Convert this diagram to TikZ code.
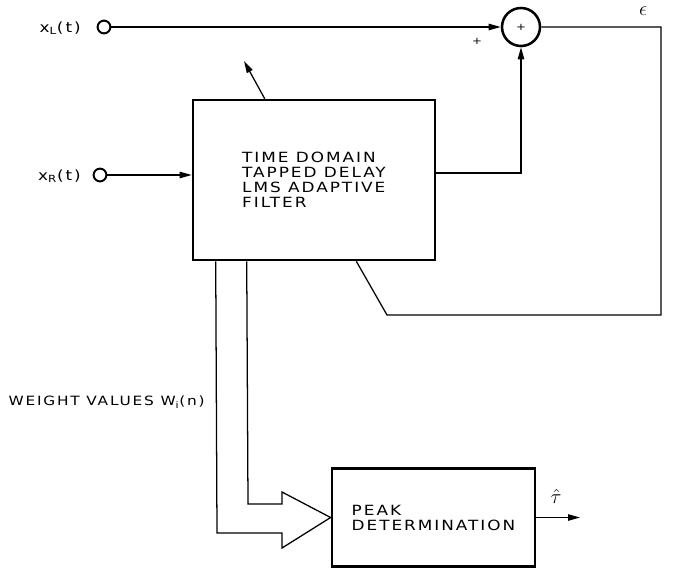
\documentclass[tikz,border=0pt]{standalone}
\usepackage{amsmath}
\usepackage{fontspec}
\newfontfamily\diagfont{DejaVu Sans}[FakeStretch=1.2,LetterSpace=14]
\usetikzlibrary{arrows.meta,positioning,calc}
\tikzset{
  filterbox/.style={draw, line width=1.8pt, minimum width=6.05cm, minimum height=4cm, align=left, font=\diagfont\fontsize{10}{10.7}\selectfont},
  peakbox/.style={draw, line width=1.8pt, minimum width=5.08cm, minimum height=2.46cm, align=left, font=\diagfont\fontsize{10}{10.7}\selectfont},
  portnode/.style={draw, circle, line width=1.4pt, minimum size=0.32cm, inner sep=0pt},
  sumnode/.style={draw, circle, line width=1.8pt, minimum size=0.95cm, inner sep=0pt, font=\diagfont\scriptsize},
  sline/.style={-{Triangle[length=3mm,width=1.6mm]}, line width=0.9pt},
  pline/.style={line width=0.9pt},
  lbl/.style={font=\diagfont\fontsize{10}{10.7}\selectfont, inner sep=0pt},
  mathlbl/.style={font=\Large, inner sep=0pt},
}

\begin{document}
\begin{tikzpicture}[x=0.025cm, y=-0.025cm]
  \useasboundingbox (0,0) rectangle (675,586);

  \node[portnode] (inL) at (104,27) {};
  \node[portnode] (inR) at (100,175) {};
  \node[lbl, anchor=east] (labL) at (81,28) {x$_{\text{L}}$(t)};
  \node[lbl, anchor=east] (labR) at (81,176) {x$_{\text{R}}$(t)};

  \node[sumnode] (sum) at (521,27) {+};
  \node[filterbox] (filter) at (314,180) {TIME DOMAIN\\TAPPED DELAY\\LMS ADAPTIVE\\FILTER};
  \node[peakbox] (peak) at (433.5,517.5) {PEAK\\DETERMINATION};

  \node[lbl, font=\diagfont\scriptsize] (plus) at (477,41) {+};
  \node[mathlbl] (eps) at (643,11) {$\epsilon$};

  \draw[sline] (inL) -- (sum.west);
  \draw[sline] (inR) -- (inR -| filter.west);
  \draw[sline] ($(filter.east)+(0,-7)$) -| (sum.south);
  \draw[pline] (sum.east) -- (661,27) -- (661,315) -- (387,315)
    -- ($(filter.south east)+(-80,0)$);

  % adaptation
  \coordinate (adj) at (244,61);
  \draw[sline] ($(filter.north west)+(73,0)$) -- (adj);

  % weight bus
  \draw[pline] ($(filter.south west)+(24,0)$) -- (217,533) -- (282,533)
    -- (282,548) -- (peak.west) -- (282,492) -- (282,504) -- (248,504)
    -- ($(filter.south west)+(55,0)$);
  \node[lbl, anchor=east, font=\diagfont\fontsize{9.1}{10}\selectfont] (wlab) at (205,402) {WEIGHT VALUES W$_{\text{i}}$(n)};

  \coordinate (tauout) at (580,517.5);
  \draw[sline] (peak.east) -- (tauout);
  \node[mathlbl] (tau) at (556,496) {$\hat{\tau}$};
\end{tikzpicture}
\end{document}
